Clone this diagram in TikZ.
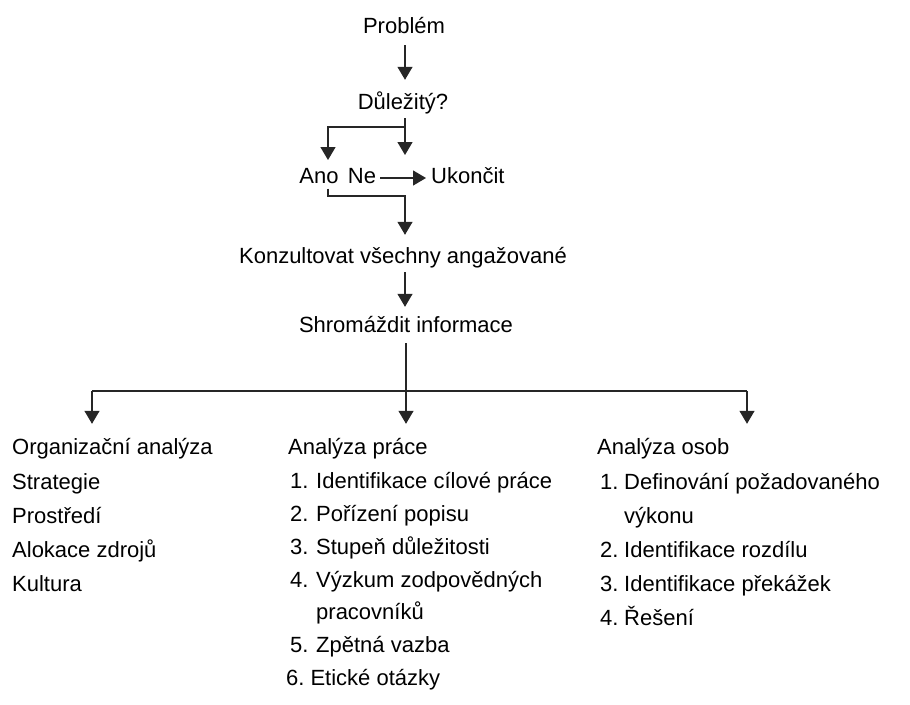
\documentclass[tikz,border=0pt]{standalone}
\usepackage{fontspec}
\setmainfont{Liberation Sans}
\usetikzlibrary{arrows.meta}
\begin{document}
\begin{tikzpicture}[x=1pt,y=-1pt,
  lbl/.style={inner sep=0pt,text height=16pt,text depth=5pt,font=\fontsize{22}{26}\selectfont},
  itm/.style={lbl,anchor=west},
  conn/.style={line width=1.3pt,draw=black!85},
  arr/.style={conn,-{Triangle[width=15pt,length=13pt]}}]
\useasboundingbox (0,0) rectangle (910,704);
% top flow
\node[lbl] (problem) at (404,28) {Problém};
\node[lbl] (dulezity) at (403,104) {Důležitý?};
\node[lbl] (ano) at (319,178) {Ano};
\node[lbl] (ne) at (362,178) {Ne};
\node[itm] (ukoncit) at (431,178) {Ukončit};
\node[lbl] (konz) at (403,258) {Konzultovat všechny angažované};
\node[lbl] (shrom) at (406,327) {Shromáždit informace};
% helper coordinates
\coordinate (vx) at (405,0);
\coordinate (b1) at (405,127);
\coordinate (t1) at (405,155);
\coordinate (t2) at (328,160);
\coordinate (c1) at (405,196);
\coordinate (hm) at (406,391);
\coordinate (hl) at (92,391);
\coordinate (hr) at (747,391);
% connectors
\draw[arr,shorten <=6.5pt,shorten >=13.5pt] (problem.south -| vx) -- (dulezity.north -| vx);
\draw[arr,shorten <=3.5pt] (dulezity.south -| vx) -- (t1);
\draw[arr] (b1) -| (t2);
\draw[arr,shorten <=4pt,shorten >=5pt] (ne.east) -- (ukoncit.west);
\draw[arr,shorten >=12.5pt] (ano.south -| t2) |- (c1) -- (konz.north -| c1);
\draw[arr,shorten <=3.5pt,shorten >=9.5pt] (konz.south -| vx) -- (shrom.north -| vx);
% columns
\node[itm] (org) at (12,449) {Organizační analýza};
\node[itm] (org1) at (12,484) {Strategie};
\node[itm] (org2) at (12,518) {Prostředí};
\node[itm] (org3) at (12,552) {Alokace zdrojů};
\node[itm] (org4) at (12,586) {Kultura};
\node[itm] (prace) at (288,449) {Analýza práce};
\node[itm] (pr1) at (290,483) {\makebox[26pt][l]{1.}Identifikace cílové práce};
\node[itm] (pr2) at (290,516) {\makebox[26pt][l]{2.}Pořízení popisu};
\node[itm] (pr3) at (290,549) {\makebox[26pt][l]{3.}Stupeň důležitosti};
\node[itm] (pr4) at (290,582) {\makebox[26pt][l]{4.}Výzkum zodpovědných};
\node[itm] (pr4b) at (316,614) {pracovníků};
\node[itm] (pr5) at (290,647) {\makebox[26pt][l]{5.}Zpětná vazba};
\node[itm] (pr6) at (286,680) {6.\hspace{6pt}Etické otázky};
\node[itm] (osob) at (597,449) {Analýza osob};
\node[itm] (os1) at (600,484) {\makebox[24pt][l]{1.}Definování požadovaného};
\node[itm] (os1b) at (624,518) {výkonu};
\node[itm] (os2) at (600,552) {\makebox[24pt][l]{2.}Identifikace rozdílu};
\node[itm] (os3) at (600,586) {\makebox[24pt][l]{3.}Identifikace překážek};
\node[itm] (os4) at (600,620) {\makebox[24pt][l]{4.}Řešení};
% lower branching
\draw[arr,shorten <=5.5pt,shorten >=14.5pt] (shrom.south -| hm) -- (prace.north -| hm);
\draw[conn] (hl) -- (hr);
\draw[arr,shorten >=14.5pt] (hl) -- (org.north -| hl);
\draw[arr,shorten >=14.5pt] (hr) -- (osob.north -| hr);
\end{tikzpicture}
\end{document}
